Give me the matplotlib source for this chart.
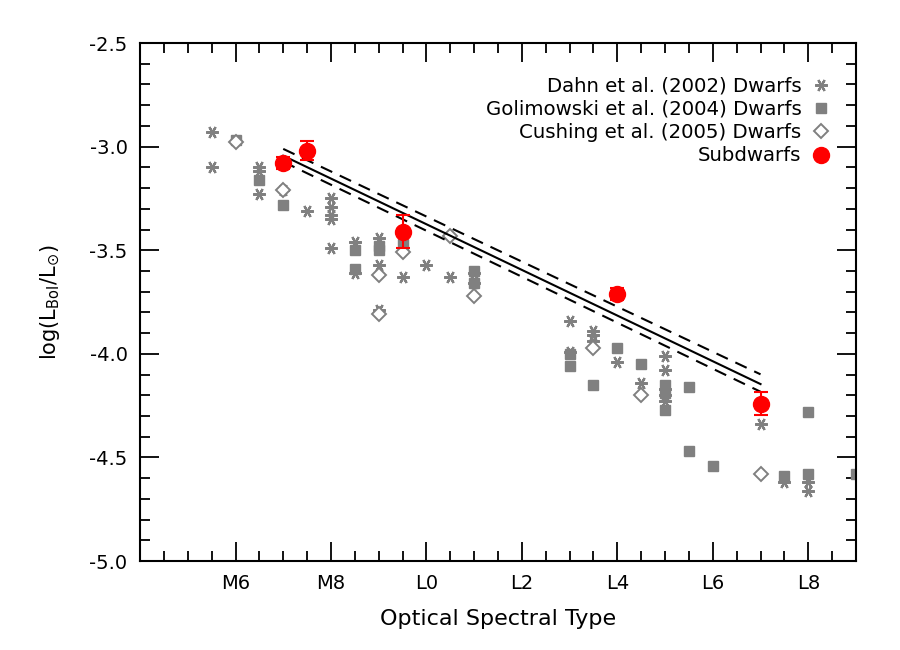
import numpy as np
import matplotlib
matplotlib.use("Agg")
import matplotlib.pyplot as plt
from matplotlib.ticker import MultipleLocator, FixedLocator
from matplotlib.lines import Line2D

plt.rcParams["axes.unicode_minus"] = False

# spectral type code: M0=0 ... M9=9, L0=10 ... L9=19
dahn_spt = [5.5, 5.5, 6.5, 6.5, 6.5, 7.0, 7.5, 8.0, 8.0, 8.0, 8.0, 8.0, 8.5, 8.5,
            9.0, 9.0, 9.0, 9.5, 10.0, 10.5, 11.0, 11.0, 13.0, 13.0, 13.5, 13.5, 13.5,
            14.0, 14.5, 15.0, 15.0, 15.0, 15.0, 15.0, 17.0, 17.5, 18.0, 18.0]
dahn_lum = [-2.93, -3.10, -3.10, -3.12, -3.23, -3.21, -3.31, -3.25, -3.29, -3.33, -3.35, -3.49, -3.46, -3.61,
            -3.44, -3.57, -3.79, -3.63, -3.57, -3.63, -3.61, -3.66, -3.84, -3.99, -3.89, -3.91, -3.94,
            -4.04, -4.14, -4.01, -4.08, -4.17, -4.20, -4.23, -4.34, -4.62, -4.62, -4.66]

goli_spt = [6.0, 6.5, 7.0, 8.5, 8.5, 9.0, 9.0, 9.5, 11.0, 11.0, 13.0, 13.0, 13.5, 14.0, 14.5,
            15.0, 15.0, 15.0, 15.5, 15.5, 16.0, 17.5, 18.0, 18.0, 19.0]
goli_lum = [-2.97, -3.16, -3.28, -3.50, -3.59, -3.48, -3.50, -3.47, -3.60, -3.66, -4.00, -4.06, -4.15, -3.97, -4.05,
            -4.15, -4.19, -4.27, -4.16, -4.47, -4.54, -4.59, -4.28, -4.58, -4.58]

cush_spt = [6.0, 7.0, 9.0, 9.0, 9.5, 10.5, 11.0, 13.5, 14.5, 17.0]
cush_lum = [-2.98, -3.21, -3.62, -3.81, -3.51, -3.43, -3.72, -3.97, -4.20, -4.58]

sub_spt = [7.0, 7.5, 9.5, 14.0, 17.0]
sub_lum = [-3.08, -3.02, -3.41, -3.71, -4.24]
sub_err = [0.03, 0.045, 0.08, 0.03, 0.055]

# linear fit and its uncertainty band
fit_x = [7.0, 17.0]
fit_y = [-3.044, -4.146]
fit_hi = [-3.011, -4.099]
fit_lo = [-3.073, -4.183]

tick_pos = [6, 8, 10, 12, 14, 16, 18]
tick_lab = ["M6", "M8", "L0", "L2", "L4", "L6", "L8"]

gray = "#808080"
red = "#ff0000"

fig = plt.figure(figsize=(9, 6.5), dpi=100)
ax = fig.add_axes([0.1556, 0.1369, 0.7955, 0.7969])

ast = dict(ls="none", marker=(6, 2, 90), ms=9, mew=1.6, color=gray)
sq = dict(ls="none", marker="s", ms=7, color=gray, mec=gray)
dia = dict(ls="none", marker="D", ms=7, mfc="white", mec=gray, mew=1.4)
dot = dict(ls="none", marker="o", ms=11.5, color=red)

ax.plot(dahn_spt, dahn_lum, **ast)
ax.plot(goli_spt, goli_lum, **sq)
ax.plot(cush_spt, cush_lum, **dia)

ax.plot(fit_x, fit_y, color="black", lw=1.5)
ax.plot(fit_x, fit_hi, color="black", lw=1.5, dashes=(6, 4))
ax.plot(fit_x, fit_lo, color="black", lw=1.5, dashes=(6, 4))

ax.errorbar(sub_spt, sub_lum, yerr=sub_err, fmt="o", ms=11.5, color=red, ecolor=red,
            elinewidth=1.5, capsize=5, capthick=1.5, zorder=5)

ax.set_xlim(4, 19)
ax.set_ylim(-5.0, -2.5)
ax.xaxis.set_major_locator(FixedLocator(tick_pos))
ax.set_xticklabels(tick_lab)
ax.xaxis.set_minor_locator(MultipleLocator(0.5))
ax.yaxis.set_major_locator(MultipleLocator(0.5))
ax.yaxis.set_minor_locator(MultipleLocator(0.1))
ax.tick_params(which="both", direction="in", top=True, right=True, width=1.3, labelsize=14)
ax.tick_params(which="major", length=14, pad=9)
ax.tick_params(which="minor", length=7)
for s in ax.spines.values():
    s.set_linewidth(1.5)

ax.set_xlabel("Optical Spectral Type", fontsize=16, labelpad=12)
ax.set_ylabel(r"log(L$_{\rm Bol}$/L$_{\odot}$)", fontsize=15, labelpad=20)

handles = [Line2D([], [], **ast), Line2D([], [], **sq), Line2D([], [], **dia), Line2D([], [], **dot)]
labels = ["Dahn et al. (2002) Dwarfs", "Golimowski et al. (2004) Dwarfs",
          "Cushing et al. (2005) Dwarfs", "Subdwarfs"]
ax.legend(handles, labels, loc="upper right", bbox_to_anchor=(1.012, 1.004),
          markerfirst=False, frameon=False, fontsize=14.2,
          handlelength=0.8, handletextpad=0.6, labelspacing=0.22, borderaxespad=1.4,
          numpoints=1)

fig.savefig("out.png", dpi=100)
